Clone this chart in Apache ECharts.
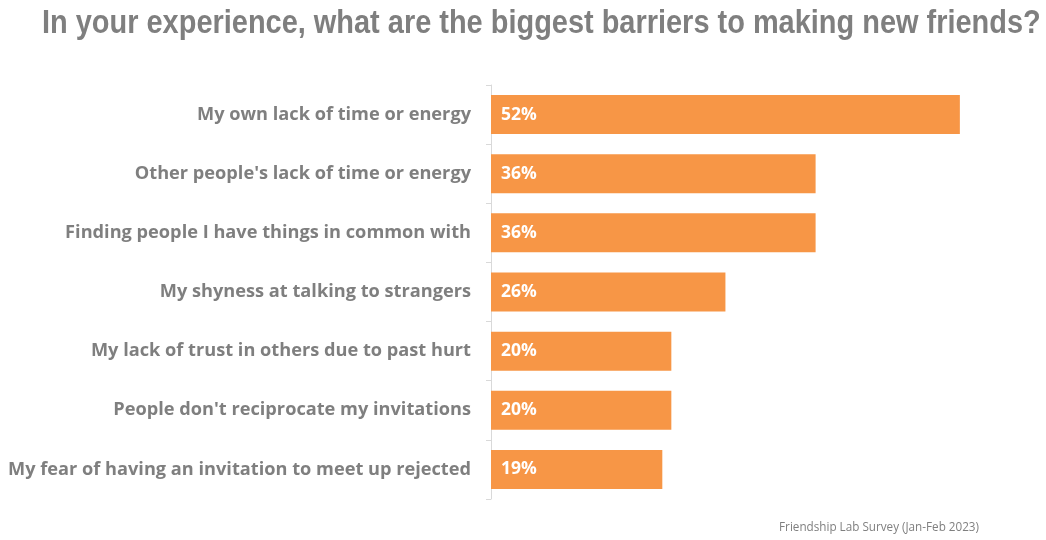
<!DOCTYPE html>
<html>
<head>
<meta charset="utf-8">
<script src="https://cdn.jsdelivr.net/npm/echarts@6/dist/echarts.min.js"></script>
<style>
  html, body { margin: 0; padding: 0; background: #ffffff; }
  #chart { width: 1046px; height: 540px; }
</style>
</head>
<body>
<div id="chart"></div>
<script>
// Survey answers, listed top to bottom
const categories = [
  "My own lack of time or energy",
  "Other people's lack of time or energy",
  "Finding people I have things in common with",
  "My shyness at talking to strangers",
  "My lack of trust in others due to past hurt",
  "People don't reciprocate my invitations",
  "My fear of having an invitation to meet up rejected"
];
// Share of respondents (%)
const shares = [52, 36, 36, 26, 20, 20, 19];

const titleText = 'In your experience, what are the biggest barriers to making new friends?';
const sourceText = 'Friendship Lab Survey (Jan-Feb 2023)';

const chart = echarts.init(document.getElementById('chart'), null, { renderer: 'canvas' });

chart.setOption({
  backgroundColor: '#ffffff',
  animation: false,
  graphic: [{
    // narrow headline: a bold sans squeezed horizontally
    type: 'text',
    x: 42,
    y: 7,
    scaleX: 0.877,
    scaleY: 1,
    style: {
      text: titleText,
      font: 'bold 33px "Liberation Sans", Arial, sans-serif',
      fill: '#7f7f7f',
      textVerticalAlign: 'top'
    }
  }, {
    type: 'text',
    right: 67,
    top: 522,
    style: {
      text: sourceText,
      font: '11.7px "Open Sans", sans-serif',
      fill: '#7f7f7f'
    }
  }],
  grid: {
    left: 491,
    top: 85,
    width: 541,
    height: 414,
    containLabel: false
  },
  xAxis: {
    type: 'value',
    min: 0,
    max: 60,
    show: false
  },
  yAxis: {
    type: 'category',
    data: categories,
    inverse: true,
    axisLine: { show: true, lineStyle: { color: '#d9d9d9', width: 1 } },
    axisTick: { show: true, length: 5, lineStyle: { color: '#d9d9d9' } },
    axisLabel: {
      margin: 20,
      color: '#7f7f7f',
      fontFamily: '"Open Sans", sans-serif',
      fontWeight: 'bold',
      fontSize: 18.2
    },
    splitLine: { show: false }
  },
  series: [{
    type: 'bar',
    data: shares,
    barCategoryGap: '34%',
    itemStyle: { color: '#f79646' },
    label: {
      show: true,
      position: 'insideLeft',
      distance: 10,
      formatter: p => p.value + '%',
      color: '#ffffff',
      fontFamily: '"Open Sans", sans-serif',
      fontWeight: 'bold',
      fontSize: 17.5
    }
  }]
});
</script>
</body>
</html>
